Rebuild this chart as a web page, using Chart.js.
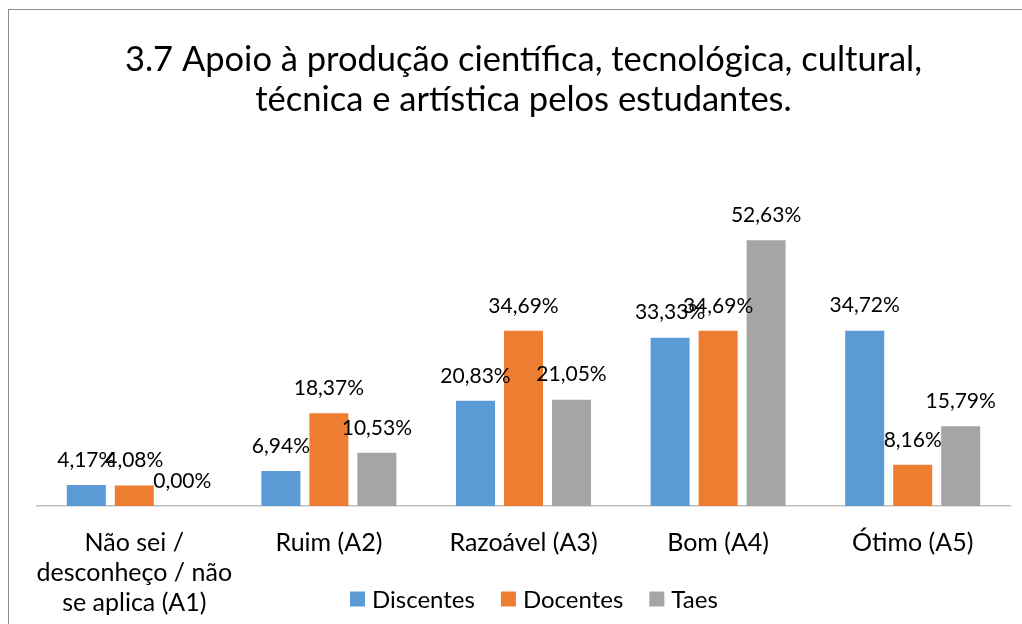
<!DOCTYPE html>
<html>
<head>
<meta charset="utf-8">
<script src="https://cdn.jsdelivr.net/npm/chart.js@4.4.1/dist/chart.umd.min.js"></script>
<style>
  html, body { margin:0; padding:0; background:#fff; }
  #wrap { position:relative; width:1022px; height:624px; overflow:hidden; }
  #frame { position:absolute; left:8px; top:9px; width:1100px; height:700px; border-left:1.5px solid #8c8c8c; border-top:1.5px solid #8c8c8c; }
  canvas { position:absolute; left:0; top:0; }
</style>
</head>
<body>
<div id="wrap">
  <div id="frame"></div>
  <canvas id="c" width="1022" height="624"></canvas>
</div>
<script>
const titleLines = ["3.7 Apoio à produção científica, tecnológica, cultural,", "técnica e artística pelos estudantes."];
const categories = [["Não sei /", "desconheço / não", "se aplica (A1)"], "Ruim (A2)", "Razoável (A3)", "Bom (A4)", "Ótimo (A5)"];
const seriesNames = ["Discentes", "Docentes", "Taes"];
const discentes = [4.17, 6.94, 20.83, 33.33, 34.72];
const docentes = [4.08, 18.37, 34.69, 34.69, 8.16];
const taes = [0.00, 10.53, 21.05, 52.63, 15.79];
const colors = ["#5B9BD5", "#ED7D31", "#A5A5A5"];

const FONT = "Lato, 'Open Sans', sans-serif";

const labelPlugin = {
  id: 'valueLabels',
  afterDatasetsDraw(chart) {
    const ctx = chart.ctx;
    ctx.save();
    ctx.font = "21px " + FONT;
    ctx.fillStyle = "#000";
    ctx.textAlign = "center";
    ctx.textBaseline = "middle";
    chart.data.datasets.forEach((ds, i) => {
      const meta = chart.getDatasetMeta(i);
      meta.data.forEach((el, j) => {
        const v = ds.data[j];
        const txt = v.toFixed(2).replace('.', ',') + '%';
        ctx.fillText(txt, el.x, el.y - 25);
      });
    });
    ctx.restore();
  }
};

const legendPlugin = {
  id: 'bottomLegend',
  afterDraw(chart) {
    const ctx = chart.ctx;
    ctx.save();
    ctx.font = "24px " + FONT;
    ctx.textBaseline = "middle";
    ctx.textAlign = "left";
    let x = 350;
    const yc = 599;
    chart.data.datasets.forEach((ds) => {
      ctx.fillStyle = ds.backgroundColor;
      ctx.fillRect(x, yc - 7.5, 15, 15);
      ctx.fillStyle = "#000";
      ctx.fillText(ds.label, x + 22, yc + 1);
      x += 22 + ctx.measureText(ds.label).width + 26;
    });
    ctx.restore();
  }
};

new Chart(document.getElementById('c'), {
  type: 'bar',
  data: {
    labels: categories,
    datasets: [
      { label: seriesNames[0], data: discentes, backgroundColor: colors[0] },
      { label: seriesNames[1], data: docentes, backgroundColor: colors[1] },
      { label: seriesNames[2], data: taes, backgroundColor: colors[2] }
    ]
  },
  options: {
    responsive: false,
    animation: false,
    devicePixelRatio: 1,
    layout: { padding: { left: 37, right: 12, top: 0, bottom: 0 } },
    datasets: { bar: { categoryPercentage: 0.74, barPercentage: 0.8125 } },
    plugins: {
      title: {
        display: true,
        text: titleLines,
        color: "#000",
        font: { family: FONT, size: 34.5, weight: 'normal', lineHeight: 1.16 },
        padding: { top: 40, bottom: 83 }
      },
      legend: { display: false },
      tooltip: { enabled: false }
    },
    scales: {
      x: {
        grid: { display: false, drawTicks: false },
        border: { display: true, color: "#bfbfbf", width: 1.5 },
        ticks: {
          color: "#000",
          font: { family: FONT, size: 25, lineHeight: 1.2 },
          padding: 22,
          maxRotation: 0, autoSkip: false
        },
        afterFit(scale) { scale.height = 118; }
      },
      y: {
        display: false,
        min: 0, max: 60
      }
    }
  },
  plugins: [labelPlugin, legendPlugin]
});
</script>
</body>
</html>
